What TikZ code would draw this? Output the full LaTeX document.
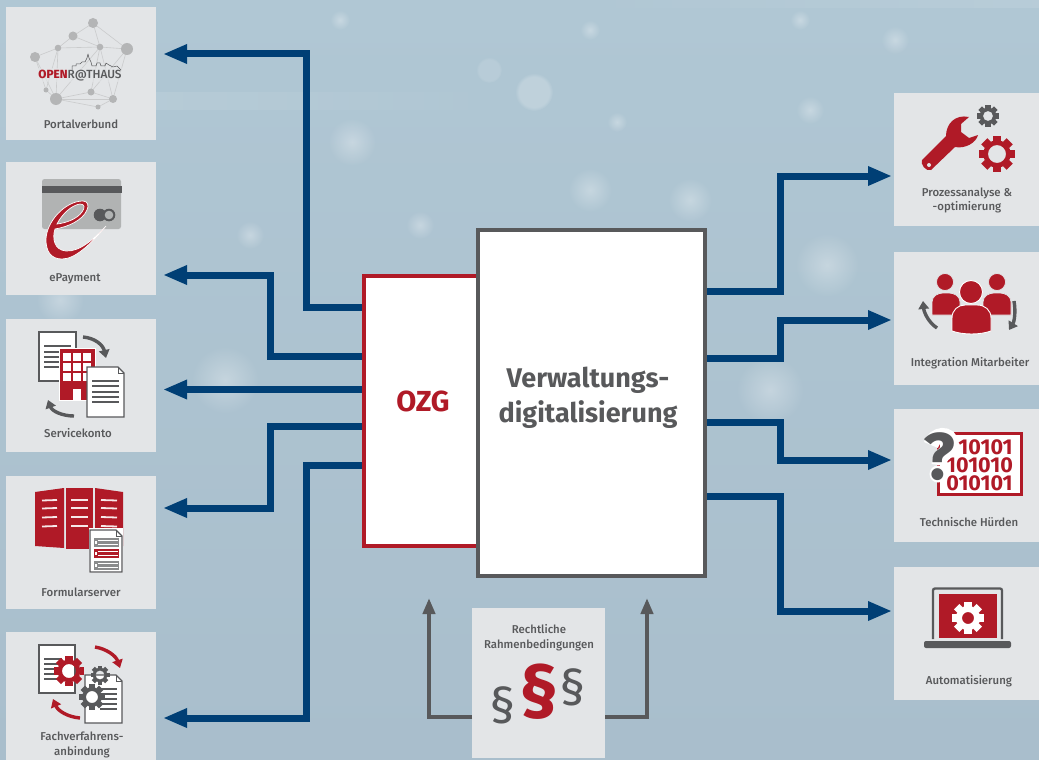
\documentclass[tikz,border=0pt]{standalone}
\usepackage{xcolor}
\usepackage{fontspec}
\usetikzlibrary{arrows.meta,fadings}
\setmainfont{Fira Sans}
\newfontfamily\labelfont{Fira Sans Medium}
\definecolor{tilegrey}{HTML}{E3E5E7}
\definecolor{ozgred}{HTML}{B01A27}
\definecolor{flowblue}{HTML}{003F75}
\definecolor{darkgrey}{HTML}{58595B}
\definecolor{midgrey}{HTML}{B1B3B3}
\definecolor{netgrey}{HTML}{B4B5B6}
\definecolor{skytop}{HTML}{B0C7D4}
\definecolor{skybottom}{HTML}{A9BECC}
\tikzfading[name=softspot, inner color=transparent!0, outer color=transparent!100]
\tikzset{
  tile/.style={fill=tilegrey, minimum width=150pt, minimum height=133pt, outer sep=0pt},
  tilelabel/.style={text=darkgrey, font=\fontsize{11.4}{14.5}\labelfont, align=center, inner sep=0pt},
  flow/.style={draw=flowblue, line width=7pt, -{Triangle[length=24pt,width=18pt]}},
  legal/.style={draw=darkgrey, line width=4pt, -{Triangle[length=16pt,width=12pt]}},
  swoosh/.style={line width=3.4pt, -{Triangle[length=8pt,width=10.5pt]}},
  sheet/.style={fill=white, draw=darkgrey, line width=1.1pt},
  glow/.style={fill=white, fill opacity=.3, path fading=softspot}
}
% gear: x, y, radius, hole radius, colour
\newcommand{\cogwheel}[5]{
  \fill[#5, even odd rule] (#1,#2) circle ({0.76*#3}) (#1,#2) circle (#4);
  \foreach \cogangle in {0,45,...,315}
    \fill[#5, rotate around={\cogangle:(#1,#2)}] ({#1-0.24*#3},{#2-#3}) rectangle ({#1+0.24*#3},{#2-0.7*#3});
}
% sheet with folded corner: x1, y1, x2, y2
\newcommand{\foldedsheet}[4]{
  \draw[sheet] (#1,#2) -- ({#3-6},#2) -- (#3,{#2+6}) -- (#3,#4) -- (#1,#4) -- cycle;
  \draw[darkgrey, line width=.7pt] ({#3-6},#2) -- ({#3-6},{#2+6}) -- (#3,{#2+6});
}
% text lines on a sheet: x1, x2, list of y
\newcommand{\sheetlines}[3]{
  \foreach \liney in {#3}
    \draw[darkgrey, line width=1.7pt] (#1,\liney) -- (#2,\liney);
}

\begin{document}
\begin{tikzpicture}[x=1pt,y=-1pt]
\useasboundingbox (0,0) rectangle (1039,760);
\clip (0,0) rectangle (1039,760);

% background
\fill[top color=skytop, bottom color=skybottom] (0,0) rectangle (1039,760);
\foreach \glowx/\glowy/\glowr in {352/142/24, 590/190/22, 690/200/22, 827/265/32, 770/390/34, 225/380/34, 250/235/14, 895/40/14, 810/110/14, 617/122/10, 420/225/14, 60/300/24, 340/20/10, 950/200/14, 590/30/10, 800/20/10}
  \fill[glow] (\glowx,\glowy) circle (\glowr);
\fill[white, fill opacity=.2, path fading=circle with fuzzy edge 20 percent] (534,92) circle (19);
\fill[white, fill opacity=.12, path fading=circle with fuzzy edge 20 percent] (489,70) circle (13);
\fill[white, fill opacity=.1, path fading=east] (130,92) rectangle (520,110);
\fill[white, fill opacity=.1, path fading=west] (550,0) rectangle (1039,8);

% tiles left
\node[tile] (portal) at (81,73.5) {};
\node[tile] (epay) at (81,228.5) {};
\node[tile] (konto) at (81,385.5) {};
\node[tile] (formular) at (81,542.5) {};
\node[tile] (fachverf) at (81,698.5) {};
% tiles right
\node[tile] (prozess) at (969,159.5) {};
\node[tile] (mitarb) at (969,318.5) {};
\node[tile] (huerden) at (969,475.5) {};
\node[tile] (autom) at (969,633.5) {};
% tile below
\node[tile, minimum width=133pt, minimum height=150pt] (rahmen) at (538.5,683) {};

\node[tilelabel] (portaltext) at (81,124) {Portalverbund};
\node[tilelabel] (epaytext) at (75,279) {ePayment};
\node[tilelabel] (kontotext) at (78,433) {Servicekonto};
\node[tilelabel] (formulartext) at (81,592) {Formularserver};
\node[tilelabel] (fachverftext) at (82,745) {Fachverfahrens-\\anbindung};
\node[tilelabel] (prozesstext) at (967,200.5) {Prozessanalyse \&\\-optimierung};
\node[tilelabel] (mitarbtext) at (970,363) {Integration Mitarbeiter};
\node[tilelabel] (huerdentext) at (969,522) {Technische Hürden};
\node[tilelabel] (automtext) at (969,681) {Automatisierung};
\node[tilelabel] (rahmentext) at (539,637.5) {Rechtliche\\Rahmenbedingungen};

% centre boxes
\node[draw=ozgred, fill=white, line width=4pt, minimum width=114pt, minimum height=270pt, inner sep=0pt] (ozgbox) at (421,411) {};
\node[draw=darkgrey, fill=white, line width=4pt, minimum width=227pt, minimum height=346pt, inner sep=0pt] (verwbox) at (591.5,403) {};
\node[text=ozgred, font=\fontsize{29}{32}\selectfont\bfseries] (ozgtext) at (423,401) {OZG};
\node[text=darkgrey, font=\fontsize{27}{35}\selectfont\bfseries, align=center] (verwtext) at (588,398) {Verwaltungs-\\digitalisierung};

% connectors left
\draw[flow, shorten >=7pt] ([yshift=103.5pt]ozgbox.west) -- ++(-56,0) |- ([yshift=19.5pt]portal.east);
\draw[flow, shorten >=7pt] ([yshift=55pt]ozgbox.west) -- ++(-92,0) |- ([yshift=-46.5pt]epay.east);
\draw[flow, shorten >=7pt] ([yshift=21.5pt]ozgbox.west) -- ([yshift=-4pt]konto.east);
\draw[flow, shorten >=7pt] ([yshift=-15pt]ozgbox.west) -- ++(-92,0) |- ([yshift=34.5pt]formular.east);
\draw[flow, shorten >=7pt] ([yshift=-54pt]ozgbox.west) -- ++(-56,0) |- ([yshift=-19.5pt]fachverf.east);
% connectors right
\draw[flow, shorten >=2pt] ([yshift=112pt]verwbox.east) -- ++(73,0) |- ([yshift=-16.5pt]prozess.west);
\draw[flow, shorten >=2pt] ([yshift=45pt]verwbox.east) -- ++(73,0) |- ([yshift=-1.5pt]mitarb.west);
\draw[flow, shorten >=2pt] ([yshift=-19pt]verwbox.east) -- ++(73,0) |- ([yshift=15.5pt]huerden.west);
\draw[flow, shorten >=2pt] ([yshift=-93pt]verwbox.east) -- ++(73,0) |- ([yshift=22.5pt]autom.west);
% connectors below
\coordinate (legalleft) at (429,598);
\coordinate (legalright) at (647,598);
\draw[legal] ([yshift=-34pt]rahmen.west) -| (legalleft);
\draw[legal] ([yshift=-34pt]rahmen.east) -| (legalright);

% portal icon
\foreach \netname/\netx/\nety/\netr in {na/93/23/5, nb/73/36/4.5, nc/127/49/6, nd/100/47/3.3, ne/58/48/3.3, nf/35/57/5, ng/46/90/2.5, nh/56/99/6, ni/91/92/3.5, nk/113/99/4, nj/98/107/2.5}
  \coordinate (\netname) at (\netx,\nety);
\foreach \neta/\netb in {na/nb, na/nc, na/nd, nb/ne, nb/nd, nd/nc, ne/nd, ne/nf, nc/nk, nd/ni, nd/nk, nc/ni, ne/nh, nf/nh, nf/ng, ng/nh, nh/ni, nh/nk, nh/nj, ni/nk, nj/nk, ne/ng, nd/nh}
  \draw[netgrey!70, line width=.6pt] (\neta) -- (\netb);
\foreach \netname/\netx/\nety/\netr in {na/93/23/5, nb/73/36/4.5, nc/127/49/6, nd/100/47/3.3, ne/58/48/3.3, nf/35/57/5, ng/46/90/2.5, nh/56/99/6, ni/91/92/3.5, nk/113/99/4, nj/98/107/2.5}
  \fill[netgrey] (\netname) circle (\netr);
\fill[tilegrey, fill opacity=.6] (38,68) rectangle (122,82);
\draw[darkgrey, line width=.5pt, line join=round] (72,70) -- (72,66) -- (76,66) -- (76,64) -- (80,64) -- (82,62) -- (85,62) -- (87,58) -- (88,54) -- (89,58) -- (91,62) -- (92,66) -- (96,66) -- (97,63) -- (100,63) -- (101,66) -- (105,66) -- (106,63) -- (109,65) -- (113,67) -- (117,66) -- (121,70);
\node[text=darkgrey, font=\fontsize{11.8}{13}\labelfont, inner sep=0pt] (opentext) at (80,75.5) {\textcolor{ozgred}{\bfseries OPEN}R@THAUS};

% payment icon
\fill[midgrey, rounded corners=2.5pt] (42,179) rectangle (121,229);
\fill[darkgrey] (42,186) rectangle (122,193);
\fill[darkgrey] (100,215) circle (6.3);
\fill[darkgrey] (109,215) circle (6.3);
\fill[midgrey] (109,215) circle (4.3);
\filldraw[ozgred, draw=white, line width=.7pt, even odd rule]
  (106,226) .. controls (90,245) and (75,259) .. (62,259) .. controls (50,259) and (46,250) .. (46,240)
  .. controls (46,222) and (65,201) .. (83,201) .. controls (88,201) and (89,206) .. (87,210)
  .. controls (83,220) and (68,227) .. (55,229) .. controls (52,238) and (54,250) .. (66,251)
  .. controls (80,252) and (95,238) .. (106,226) -- cycle
  (57,224) .. controls (62,214) and (72,205) .. (80,204) .. controls (85,204) and (85,208) .. (82,212)
  .. controls (77,219) and (66,223) .. (57,224) -- cycle;

% service icon
\draw[sheet] (39,332) rectangle (76,381);
\sheetlines{44}{71}{346,352,357,362,367}
\draw[swoosh, darkgrey] (83,337) .. controls (95,338) and (103,345) .. (106,358);
\draw[swoosh, darkgrey] (74,416) .. controls (62,416) and (52,411) .. (48,400);
\filldraw[ozgred, draw=white, line width=.8pt] (59,348) rectangle (95,400);
\foreach \winy in {353,363,373}
  \foreach \winx in {63,73,83}
    \fill[white] (\winx,\winy) rectangle ({\winx+8},{\winy+8});
\fill[white] (73,389) rectangle (81,400);
\foldedsheet{87}{367}{124}{417}
\sheetlines{92}{119}{381,386,392,397,402}

% form icon
\fill[ozgred] (35,492) -- (64,488) -- (64,548) -- (35,546) -- cycle;
\fill[ozgred] (66,488) -- (93,488) -- (93,549) -- (66,549) -- cycle;
\fill[ozgred] (95,488) -- (123,492) -- (123,546) -- (95,548) -- cycle;
\foreach \formy in {500,508,517,526} {
  \draw[white!90!ozgred, line width=1.8pt] (42,{\formy+.5}) -- (57,\formy);
  \draw[white!90!ozgred, line width=1.8pt] (71,\formy) -- (88,\formy);
  \draw[white!90!ozgred, line width=1.8pt] (101,\formy) -- (117,{\formy+.5});
}
\fill[white] (88.5,528) rectangle (123,573);
\foldedsheet{90}{530}{122}{572}
\foreach \rowy/\rowcol in {538/darkgrey!70, 549/ozgred, 561/darkgrey!70} {
  \fill[\rowcol] (94,\rowy) rectangle (119,{\rowy+9});
  \fill[white] (98,{\rowy+2}) rectangle (118,{\rowy+3});
  \fill[white] (98,{\rowy+6}) rectangle (118,{\rowy+7});
  \fill[white] (95,{\rowy+3}) rectangle (97,{\rowy+6});
}

% interface icon
\draw[sheet] (39,645) rectangle (75,693);
\sheetlines{44}{62}{659,664,669,674,679}
\foldedsheet{85}{675}{122}{723}
\sheetlines{100}{117}{689,694,699,704,709}
\draw[swoosh, ozgred] (95,647) .. controls (107,649) and (116,656) .. (120,668);
\draw[swoosh, ozgred] (80,718) .. controls (68,717) and (58,711) .. (53,699);
\cogwheel{69}{671}{15}{7}{ozgred}
\cogwheel{100}{675}{9.5}{4.5}{darkgrey}
\cogwheel{92}{697}{13}{6}{darkgrey}

% process icon
\fill[ozgred, line join=round] (969,117) .. controls (955,114) and (946,124) .. (946,136) -- (922,160)
  .. controls (920,164) and (926,172) .. (931,170) -- (955,147) .. controls (965,149) and (976,143) .. (978,135)
  -- (969,138) -- (961,132) -- (961,124) -- cycle;
\fill[tilegrey] (929,165) circle (2);
\cogwheel{988}{116}{11}{5}{darkgrey}
\cogwheel{997}{154}{18}{9}{ozgred}

% staff icon
\draw[swoosh, darkgrey] (937,328) .. controls (928,322) and (924,312) .. (923,301);
\draw[swoosh, darkgrey] (1014,301) .. controls (1016,313) and (1014,322) .. (1009,330);
\foreach \headx/\bodyx in {945/946, 997/997} {
  \filldraw[ozgred, draw=tilegrey, line width=.7pt] (\headx,282) circle (8.5);
  \filldraw[ozgred, draw=tilegrey, line width=.7pt] ({\bodyx-14},315) -- ({\bodyx-14},302) .. controls ({\bodyx-14},296) and ({\bodyx-8},293) .. ({\bodyx-3},293)
    -- ({\bodyx+3},293) .. controls ({\bodyx+8},293) and ({\bodyx+14},296) .. ({\bodyx+14},302) -- ({\bodyx+14},315) -- cycle;
}
\filldraw[ozgred, draw=white, line width=.9pt] (971,292) circle (11.5);
\filldraw[ozgred, draw=white, line width=.9pt] (952,331) -- (952,318) .. controls (952,310) and (958,305) .. (965,305) -- (977,305)
  .. controls (985,305) and (991,310) .. (991,318) -- (991,331) .. controls (980,335) and (963,335) .. (952,331) -- cycle;

% hurdle icon
\filldraw[fill=white, draw=ozgred, line width=3pt] (938.5,433.5) rectangle (1021.5,494.5);
\node[text=ozgred, font=\fontsize{21.5}{22}\selectfont\bfseries, inner sep=0pt] (bits1) at (985.5,447) {10101};
\node[text=ozgred, font=\fontsize{21.5}{22}\selectfont\bfseries, inner sep=0pt] (bits2) at (979.5,465) {101010};
\node[text=ozgred, font=\fontsize{21.5}{22}\selectfont\bfseries, inner sep=0pt] (bits3) at (979.5,483) {010101};
\draw[white, line width=15pt] (931,445) .. controls (934,433) and (951,432) .. (951,444) .. controls (951,453) and (939,452) .. (939,465);
\fill[white] (938,474) circle (8.5);
\node[text=darkgrey, font=\fontsize{66}{66}\selectfont\bfseries, inner sep=0pt] (hurdlemark) at (939,457) {?};

% laptop icon
\draw[darkgrey, line width=2.3pt, rounded corners=2pt] (933,639) -- (933,588.5) -- (1002,588.5) -- (1002,639);
\fill[ozgred] (939,594) rectangle (997,638);
\cogwheel{968}{618}{16}{6}{white}
\fill[darkgrey, rounded corners=2pt] (924,641) rectangle (1011,648);

% legal icon
\node[text=ozgred, font=\fontsize{72}{72}\selectfont\bfseries, inner sep=0pt] (parared) at (539,692) {§};
\node[text=darkgrey, font=\fontsize{50}{50}\selectfont, inner sep=0pt] (paraleft) at (503,705) {§};
\node[text=darkgrey, font=\fontsize{50}{50}\selectfont, inner sep=0pt] (pararight) at (573,687) {§};
\end{tikzpicture}
\end{document}
